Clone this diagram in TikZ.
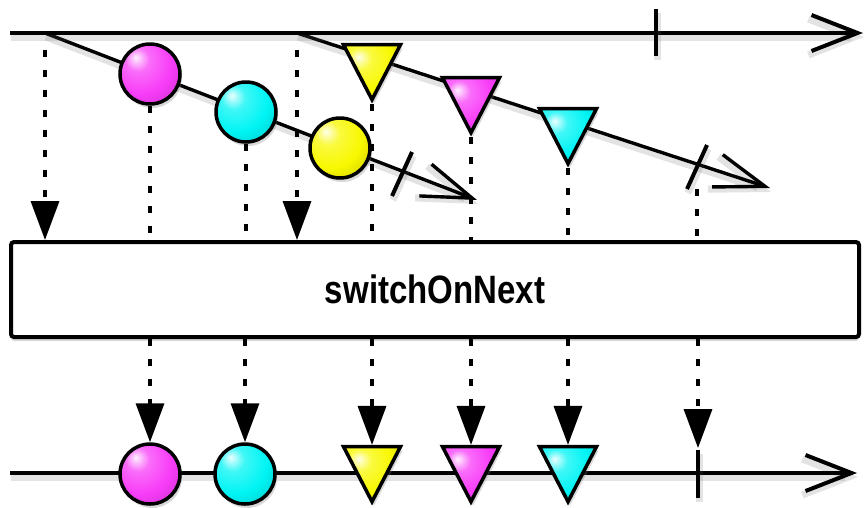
\documentclass[tikz,border=0pt]{standalone}
\usepackage{fontspec}
\setmainfont{Liberation Sans}
\usetikzlibrary{arrows.meta,shapes.geometric,shadows}

\definecolor{magentaM}{HTML}{F83CF8}
\definecolor{cyanM}{HTML}{00F4F4}
\definecolor{yellowM}{HTML}{F8F800}
\colorlet{mcol}{magentaM}
\pgfdeclareradialshading[mcol]{marble}{\pgfpoint{-12bp}{14bp}}{%
  color(0bp)=(mcol!8!white); color(10bp)=(mcol!75!white);
  color(26bp)=(mcol); color(46bp)=(mcol!78!black); color(80bp)=(mcol!60!black)}

\begin{document}
\begin{tikzpicture}[x=1pt,y=-1pt,
    every node/.style={inner sep=0pt},
    shade line/.style={preaction={draw=black!60,opacity=.18,line width=7pt,
      transform canvas={xshift=1pt,yshift=-4pt}}},
    timeline/.style={shade line,line width=4pt,-{Straight Barb[length=46pt,width=36pt]}},
    stream/.style={shade line,line width=3.4pt,-{Straight Barb[length=50pt,width=34pt]}},
    stop/.style={shade line,line width=4pt},
    dots/.style={line width=3.5pt,dash pattern=on 7pt off 13pt},
    drop/.style={dots,-{Triangle[length=39pt,width=28pt]}},
    marble/.style={draw,line width=3.5pt,shading=marble,
      /utils/exec={\colorlet{mcol}{#1}},
      drop shadow={shadow xshift=2pt,shadow yshift=-4pt,opacity=.3}},
    coin/.style={marble=#1,circle,minimum size=60pt},
    tri/.style={marble=#1,isosceles triangle,isosceles triangle stretches,
      shape border rotate=270,minimum width=57pt,minimum height=55pt}]

  \useasboundingbox (0,0) rectangle (866,507);

  \coordinate (src) at (10,33);
  \coordinate (src end) at (863,33);
  \coordinate (o1) at (45,33);
  \coordinate (o1 end) at (477,200);
  \coordinate (o2) at (297,33);
  \coordinate (o2 end) at (770,188);
  \coordinate (out) at (10,473);
  \coordinate (out end) at (857,473);
  \coordinate (k0) at (656,33);
  \coordinate (k1) at (402,174);
  \coordinate (k2) at (697,167);
  \coordinate (k3) at (698,473);

  % source and inner streams
  \draw[stream] (o1) -- (o1 end);
  \draw[stream] (o2) -- (o2 end);
  \draw[timeline] (src) -- (src end);
  \draw[timeline] (out) -- (out end);
  \draw[stop] (k0) ++(0,-24) -- ++(0,47);
  \draw[stop] (k1) ++(10,-22) -- ++(-20,44);
  \draw[stop] (k2) ++(10,-22) -- ++(-20,44);
  \draw[stop] (k3) ++(0,-23) -- ++(0,48);

  \node[draw,line width=4pt,rounded corners=3pt,fill=white,
    minimum width=848pt,minimum height=95pt,
    drop shadow={shadow xshift=0pt,shadow yshift=-4pt,opacity=.3}] (op) at (435,289.5)
    {\scalebox{1}[1.2]{\fontsize{33}{33}\selectfont\bfseries switchOnNext}};

  \node[coin=magentaM] (a1) at (150,74) {};
  \node[coin=cyanM] (a2) at (246,112) {};
  \node[coin=yellowM] (a3) at (340,148) {};
  \node[tri=yellowM] (b1) at (372,62) {};
  \node[tri=magentaM] (b2) at (471,95) {};
  \node[tri=cyanM] (b3) at (568,126) {};

  \node[coin=magentaM] (c1) at (150,474) {};
  \node[coin=cyanM] (c2) at (245,474) {};
  \node[tri=yellowM] (d1) at (372,464) {};
  \node[tri=magentaM] (d2) at (471,464) {};
  \node[tri=cyanM] (d3) at (568,464) {};

  % into switchOnNext
  \draw[drop,shorten <=17pt] (o1) -- (o1 |- op.north);
  \draw[drop,shorten <=17pt] (o2) -- (o2 |- op.north);
  \foreach \m in {a1,a2,b1,b2,b3}
    \draw[dots] (\m) -- (\m |- op.north);
  \draw[dots,shorten <=22pt] (k2) -- (k2 |- op.north);

  % out of switchOnNext
  \foreach \m in {c1,c2,d1,d2,d3}
    \draw[drop] (\m |- op.south) -- (\m);
  \draw[drop,shorten >=25pt] (k3 |- op.south) -- (k3);

\end{tikzpicture}
\end{document}
